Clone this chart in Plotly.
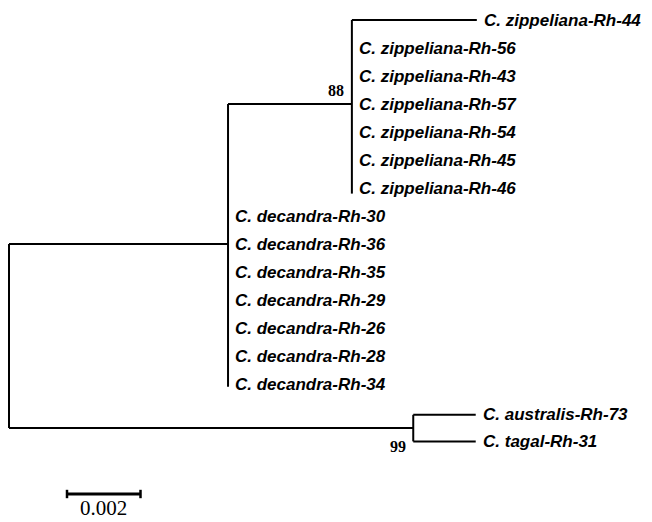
import plotly.graph_objects as go

# ---- data ----
zipp_tips = ["C. zippeliana-Rh-44", "C. zippeliana-Rh-56", "C. zippeliana-Rh-43",
             "C. zippeliana-Rh-57", "C. zippeliana-Rh-54", "C. zippeliana-Rh-45",
             "C. zippeliana-Rh-46"]
zipp_branch = [0.0034, 0, 0, 0, 0, 0, 0]
dec_tips = ["C. decandra-Rh-30", "C. decandra-Rh-36", "C. decandra-Rh-35",
            "C. decandra-Rh-29", "C. decandra-Rh-26", "C. decandra-Rh-28",
            "C. decandra-Rh-34"]
dec_branch = [0, 0, 0, 0, 0, 0, 0]
out_tips = ["C. australis-Rh-73", "C. tagal-Rh-31"]
out_branch = [0.0017, 0.0017]
root_to_A = 0.00596      # root -> decandra/zippeliana node
A_to_Z = 0.00337         # -> zippeliana node
root_to_B = 0.0110       # root -> australis/tagal node
bootstrap_Z = "88"
bootstrap_B = "99"
scale_len = 0.002
scale_label = "0.002"

# ---- layout helpers (pixel mapping) ----
W, H = 652, 522
PX_PER_UNIT = 36750.0
ROOT_PX = 9
ROW0_PX, ROW_PX = 20, 28
x_range = [-ROOT_PX / PX_PER_UNIT, (W - ROOT_PX) / PX_PER_UNIT]
y_top = -ROW0_PX / ROW_PX
y_bot = (H - ROW0_PX) / ROW_PX

# rows
zipp_y = list(range(0, 7))
dec_y = list(range(7, 14))
out_y = [14.1, 15.05]

xA = root_to_A
xZ = xA + A_to_Z
xB = root_to_B
yZ = (zipp_y[0] + zipp_y[-1]) / 2
yA = (yZ + dec_y[-1]) / 2
yB = (out_y[0] + out_y[1]) / 2

xs, ys = [], []
def seg(x0, y0, x1, y1):
    xs.extend([x0, x1, None]); ys.extend([y0, y1, None])

# root vertical and branches
seg(0, yA, 0, yB)
seg(0, yA, xA, yA)
seg(0, yB, xB, yB)
# node A vertical
seg(xA, yZ, xA, dec_y[-1] + 0.1)
seg(xA, yZ, xZ, yZ)
# node Z vertical
seg(xZ, zipp_y[0], xZ, zipp_y[-1] + 0.2)
tip_pos = []
for name, b, y in zip(zipp_tips, zipp_branch, zipp_y):
    if b > 0:
        seg(xZ, y, xZ + b, y)
    tip_pos.append((name, xZ + b, y))
for name, b, y in zip(dec_tips, dec_branch, dec_y):
    tip_pos.append((name, xA + b, y))
# node B
seg(xB, out_y[0], xB, out_y[1])
for name, b, y in zip(out_tips, out_branch, out_y):
    seg(xB, y, xB + b, y)
    tip_pos.append((name, xB + b, y))

fig = go.Figure()
fig.add_trace(go.Scatter(x=xs, y=ys, mode="lines",
                         line=dict(color="black", width=2),
                         hoverinfo="skip", showlegend=False))

# scale bar
sb_x0 = (67 - ROOT_PX) / PX_PER_UNIT
sb_y = (494 - ROW0_PX) / ROW_PX
fig.add_trace(go.Scatter(x=[sb_x0, sb_x0 + scale_len], y=[sb_y, sb_y], mode="lines",
                         line=dict(color="black", width=3),
                         hoverinfo="skip", showlegend=False))
tick_h = 0.15
for xx in [sb_x0, sb_x0 + scale_len]:
    fig.add_trace(go.Scatter(x=[xx, xx], y=[sb_y - tick_h, sb_y + tick_h], mode="lines",
                             line=dict(color="black", width=2.5),
                             hoverinfo="skip", showlegend=False))

annotations = []
lab_font = dict(family="Liberation Sans, Arial, sans-serif", size=17, color="black")
for name, x, y in tip_pos:
    annotations.append(dict(x=x, y=y, text="<b><i>" + name + "</i></b>", showarrow=False,
                            xanchor="left", yanchor="middle", xshift=5, font=lab_font))
serif = dict(family="Liberation Serif, Times New Roman, serif", size=16, color="black")
annotations.append(dict(x=xZ, y=yZ, text="<b>" + bootstrap_Z + "</b>", showarrow=False,
                        xanchor="right", yanchor="bottom", xshift=-6, yshift=3, font=serif))
annotations.append(dict(x=xB, y=yB, text="<b>" + bootstrap_B + "</b>", showarrow=False,
                        xanchor="right", yanchor="top", xshift=-5, yshift=-8, font=serif))
annotations.append(dict(x=sb_x0 + scale_len / 2, y=sb_y, text=scale_label, showarrow=False,
                        xanchor="center", yanchor="middle", yshift=-14,
                        font=dict(family="Liberation Serif, Times New Roman, serif", size=21,
                                  color="black")))

fig.update_layout(
    width=W, height=H, margin=dict(l=0, r=0, t=0, b=0),
    paper_bgcolor="white", plot_bgcolor="white",
    xaxis=dict(range=x_range, visible=False, fixedrange=True),
    yaxis=dict(range=[y_bot, y_top], visible=False, fixedrange=True),
    annotations=annotations, showlegend=False,
)
fig.write_html("out.html", config={"displayModeBar": False, "staticPlot": True},
               post_script="document.body.style.margin='0';document.body.style.padding='0';"
                           "document.body.style.overflow='hidden';")
